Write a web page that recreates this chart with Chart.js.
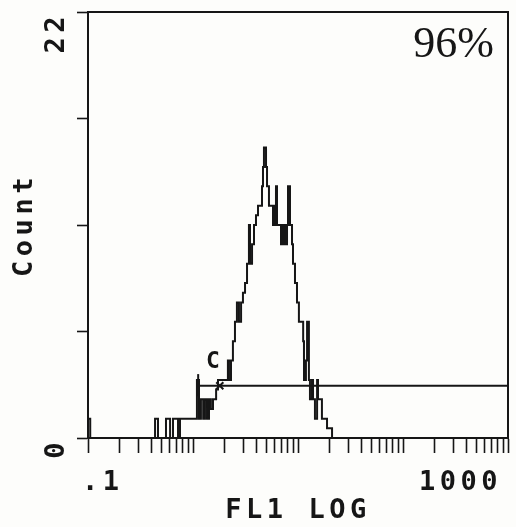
<!DOCTYPE html>
<html>
<head>
<meta charset="utf-8">
<script src="https://cdn.jsdelivr.net/npm/chart.js@4.4.1/dist/chart.umd.min.js"></script>
<style>
  html, body { margin: 0; padding: 0; background: #fdfdfb; }
  #wrap { width: 516px; height: 527px; }
</style>
</head>
<body>
<div id="wrap"><canvas id="hist"></canvas></div>
<script>
// FL1 log histogram (left edge of each channel step)
const fl1Channels = [0.1, 0.105, 0.435, 0.464, 0.553, 0.605, 0.645, 0.72, 0.752, 1.09,
  1.14, 1.19, 1.25, 1.30, 1.36, 1.42, 1.48, 1.55, 1.66, 1.73,
  2.15, 2.20, 2.30, 2.40, 2.51, 2.62, 2.74, 2.87, 2.99, 3.13,
  3.27, 3.41, 3.49, 3.65, 3.81, 3.98, 4.16, 4.54, 4.64, 4.74,
  4.96, 5.07, 5.29, 5.78, 6.04, 6.17, 6.31, 6.89, 7.20, 7.52,
  7.86, 8.03, 8.39, 8.77, 8.96, 9.36, 9.78, 10.2, 11.2, 11.4,
  11.9, 12.2, 12.7, 13.0, 13.6, 13.9, 14.5, 15.2, 15.5, 16.9,
  18.9, 21.1, 1000];
const counts = [1, 0, 1, 0, 1, 0, 1, 0, 1, 3,
  1, 2, 1, 2, 1, 2, 1.5, 2, 2.5, 3,
  4, 3, 4, 5, 6, 7, 6, 7, 7.5, 8,
  9, 11, 9, 10, 11, 11.5, 12, 13, 14, 15,
  14, 13, 12, 11, 12, 13, 11, 10, 11, 10,
  11, 13, 11, 10, 9, 8, 7, 6, 5, 3,
  4, 6, 3, 2, 3, 2, 1, 3, 2, 1,
  0.5, 0, 0];

// axis ticks
const xTicks = [0.1, 0.2, 0.3, 0.4, 0.5, 0.6, 0.7, 0.8, 0.9,
  1, 2, 3, 4, 5, 6, 7, 8, 9,
  10, 20, 30, 40, 50, 60, 70, 80, 90,
  100, 200, 300, 400, 500, 600, 700, 800, 900, 1000];
const xTickValues = [0.1, 1000];
const xTickLabels = ['.1', '1000'];
const yTickValues = [0, 5.5, 11, 16.5, 22];
const yTickLabels = ['0', '', '', '', '22'];

// marker gate C
const gateRange = [1.12, 1000];
const gateLevel = 2.7;
const gateBar = [2.15, 3.3];
const gateMarker = 1.8;
const gateName = 'C';
const gatePercent = '96%';

const ink = '#161616';
const monoFont = { family: '"DejaVu Sans Mono", monospace', size: 27, weight: 'bold' };

// printout look: wide letter spacing, closed frame, gate letter, percentage
const printLook = {
  id: 'printLook',
  beforeLayout(chart) { chart.ctx.letterSpacing = '4.5px'; },
  beforeDraw(chart) { chart.ctx.letterSpacing = '4.5px'; },
  afterDraw(chart) {
    const { ctx, chartArea: a, scales: { x, y } } = chart;
    ctx.save();
    ctx.letterSpacing = '0px';
    ctx.strokeStyle = ink;
    ctx.lineWidth = 2;
    ctx.beginPath();
    ctx.moveTo(a.left, a.top);
    ctx.lineTo(a.right, a.top);
    ctx.lineTo(a.right, a.bottom);
    ctx.stroke();

    ctx.fillStyle = ink;
    ctx.font = 'bold 23px "DejaVu Sans Mono", monospace';
    ctx.textAlign = 'center';
    ctx.textBaseline = 'middle';
    ctx.fillText(gateName, x.getPixelForValue(1.55), y.getPixelForValue(3.9));

    ctx.font = '44px "Liberation Serif", serif';
    ctx.textAlign = 'right';
    ctx.textBaseline = 'alphabetic';
    ctx.fillText(gatePercent, a.right - 14, a.top + 45);
    ctx.restore();
  }
};

const histData = fl1Channels.map((v, i) => ({ x: v, y: counts[i] }));

new Chart(document.getElementById('hist'), {
  type: 'line',
  data: {
    datasets: [
      {
        label: 'FL1',
        data: histData,
        stepped: 'before',
        borderColor: ink,
        borderWidth: 2,
        pointRadius: 0,
        fill: false
      },
      {
        label: 'gate',
        data: [{ x: gateRange[0], y: gateLevel }, { x: gateRange[1], y: gateLevel }],
        borderColor: ink,
        borderWidth: 2,
        pointRadius: 0
      },
      {
        label: 'gate end',
        data: [{ x: gateRange[0], y: gateBar[0] }, { x: gateRange[0], y: gateBar[1] }],
        borderColor: ink,
        borderWidth: 2,
        pointRadius: 0
      },
      {
        label: 'gate marker',
        data: [{ x: gateMarker, y: gateLevel }],
        showLine: false,
        pointStyle: 'crossRot',
        pointRadius: 5,
        pointBorderWidth: 2,
        pointBorderColor: ink
      }
    ]
  },
  options: {
    responsive: true,
    maintainAspectRatio: false,
    animation: false,
    layout: { padding: { top: 12, right: 8, left: 0, bottom: 0 } },
    scales: {
      x: {
        type: 'logarithmic',
        min: 0.1,
        max: 1000,
        afterBuildTicks: (scale) => { scale.ticks = xTicks.map(v => ({ value: v })); },
        afterFit: (scale) => {
          scale.height = 89;
          scale.paddingLeft = 0;
          scale.paddingRight = 0;
        },
        ticks: {
          autoSkip: false,
          minRotation: 0,
          maxRotation: 0,
          align: 'inner',
          labelOffset: -6,
          padding: 14,
          color: ink,
          font: monoFont,
          callback: (value) => {
            const i = xTickValues.findIndex(t => Math.abs(value / t - 1) < 1e-6);
            return i >= 0 ? xTickLabels[i] : '';
          }
        },
        grid: {
          drawOnChartArea: false,
          tickLength: 15,
          tickWidth: 1.6,
          tickColor: ink
        },
        border: { display: true, color: ink, width: 2 },
        title: {
          display: true,
          text: 'FL1 LOG',
          color: ink,
          font: monoFont,
          padding: { top: 0, bottom: 0 }
        }
      },
      y: {
        min: 0,
        max: 22,
        afterBuildTicks: (scale) => { scale.ticks = yTickValues.map(v => ({ value: v })); },
        afterFit: (scale) => {
          scale.width = 88;
          scale.paddingTop = 0;
          scale.paddingBottom = 0;
        },
        ticks: {
          minRotation: 90,
          maxRotation: 90,
          padding: 20,
          color: ink,
          font: monoFont,
          callback: (value) => {
            const i = yTickValues.indexOf(value);
            return i >= 0 ? yTickLabels[i] : '';
          }
        },
        grid: {
          drawOnChartArea: false,
          tickLength: 11,
          tickWidth: 1.6,
          tickColor: ink
        },
        border: { display: true, color: ink, width: 2 },
        title: {
          display: true,
          text: 'Count',
          color: ink,
          font: monoFont,
          padding: { top: 9, bottom: 0 }
        }
      }
    },
    plugins: {
      legend: { display: false },
      tooltip: { enabled: false }
    }
  },
  plugins: [printLook]
});
</script>
</body>
</html>
